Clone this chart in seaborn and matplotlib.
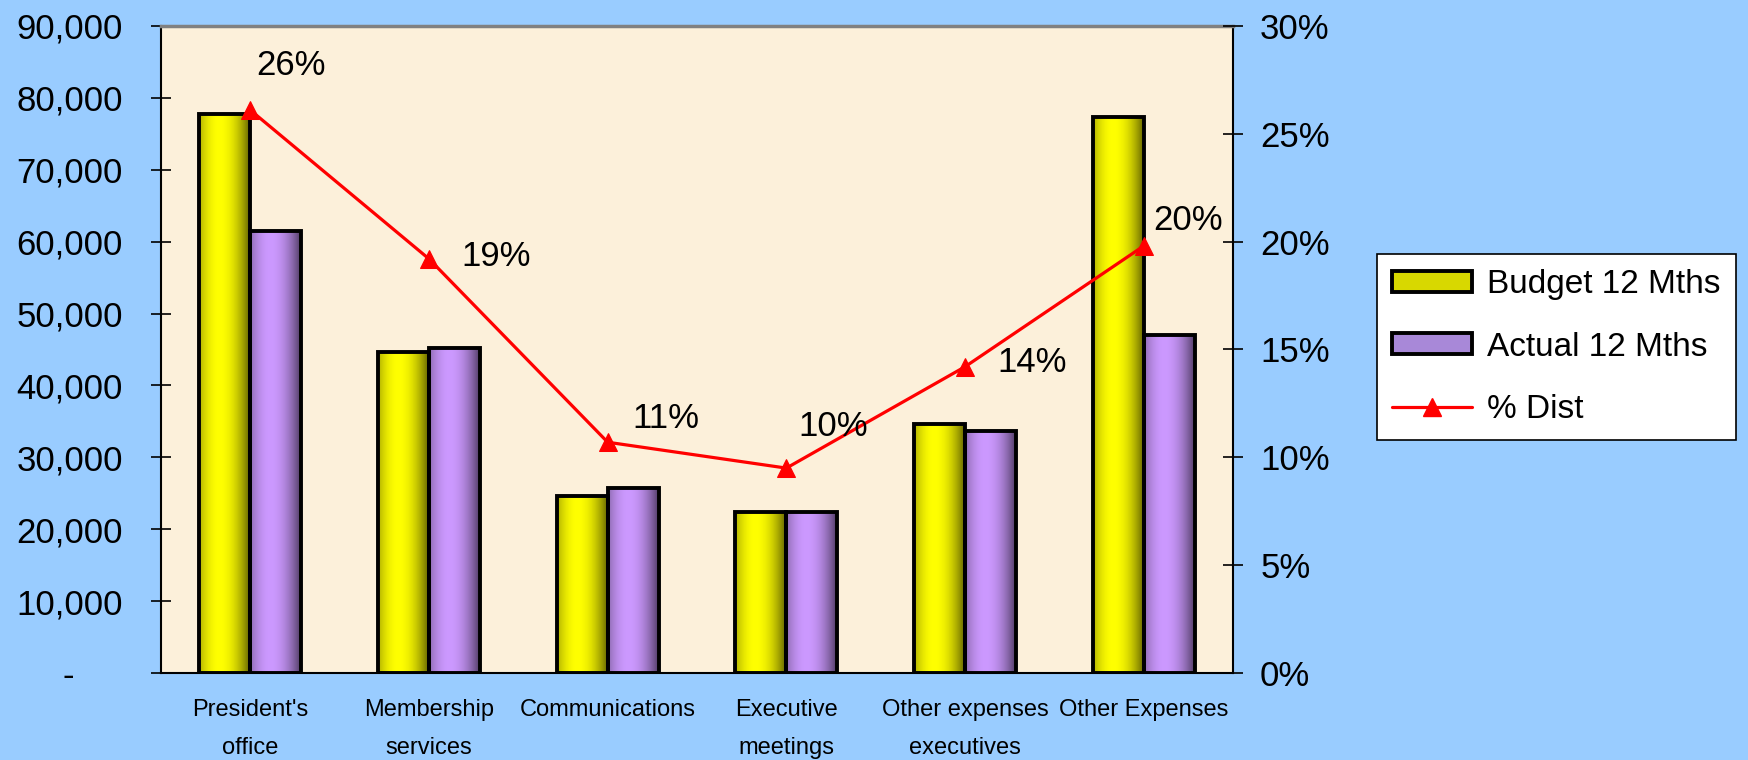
import numpy as np
import pandas as pd
import matplotlib.pyplot as plt
from matplotlib.colors import to_rgb
from matplotlib.patches import Patch
from matplotlib.lines import Line2D
from matplotlib.ticker import FuncFormatter, FixedLocator
import seaborn as sns

# data
categories = ["President's\noffice", "Membership\nservices", "Communications",
              "Executive\nmeetings", "Other expenses\nexecutives", "Other Expenses"]
series = ["Budget 12 Mths", "Actual 12 Mths"]
budget = [77800, 44700, 24600, 22400, 34600, 77400]
actual = [61500, 45200, 25700, 22400, 33600, 47000]
pct_dist = [26.1, 19.2, 10.7, 9.5, 14.2, 19.8]
pct_labels = ["26%", "19%", "11%", "10%", "14%", "20%"]

# where Excel put each data label (points, relative to the marker)
label_offsets = [(4, 32), (23, 2), (18, 17), (9, 30), (23, 3), (7, 18)]

df = pd.DataFrame({
    "category": categories * 2,
    "series": [series[0]] * len(categories) + [series[1]] * len(categories),
    "value": budget + actual,
})

sns.set_style("white")
plt.rcParams["font.family"] = ["Liberation Sans", "DejaVu Sans"]
plt.rcParams["text.color"] = "black"
plt.rcParams["xtick.color"] = "black"
plt.rcParams["ytick.color"] = "black"

colors = {series[0]: "#FFFF00", series[1]: "#CC99FF"}

fig = plt.figure(figsize=(17.48, 7.6), dpi=100, facecolor="#99CCFF")
ax = fig.add_axes([0.0921, 0.1145, 0.6133, 0.8513])
ax.set_facecolor("#FCF0DA")

sns.barplot(data=df, x="category", y="value", hue="series", palette=colors,
            width=0.57, edgecolor="black", linewidth=2.8, legend=False,
            saturation=1, ax=ax)


def shade(t):
    # cylinder look: bright a bit left of centre, dark at the edges
    return np.where(t < 0.4, 1 - 0.3 * ((0.4 - t) / 0.4) ** 2,
                    1 - 0.6 * ((t - 0.4) / 0.6) ** 2)


t = np.linspace(0, 1, 64)
for bar in list(ax.patches):
    base = np.array(to_rgb(bar.get_facecolor()))
    grad = (shade(t)[:, None] * base[None, :])[None, :, :]
    x0, w, h = bar.get_x(), bar.get_width(), bar.get_height()
    im = ax.imshow(grad, extent=[x0, x0 + w, 0, h], aspect="auto",
                   interpolation="bilinear", zorder=bar.get_zorder())
    im.set_clip_path(bar)
    bar.set_facecolor("none")
    bar.set_zorder(bar.get_zorder() + 0.5)

n = len(categories)
ax.set_xlim(-0.5, n - 0.5)
ax.set_ylim(0, 90000)
ax.set_yticks(np.arange(0, 90001, 10000))
ax.yaxis.set_major_formatter(FuncFormatter(lambda v, p: f"{v:,.0f}" if v else "-     "))
ax.set_xlabel("")
ax.set_ylabel("")
ax.set_xticks(range(n))
ax.set_xticklabels(categories, fontsize=17, linespacing=1.9)
ax.xaxis.set_minor_locator(FixedLocator(np.arange(-0.5, n, 1)))
ax.tick_params(axis="x", which="major", length=0, pad=19)
ax.tick_params(axis="x", which="minor", direction="inout", length=10, width=1.2, color="black")
ax.tick_params(axis="y", direction="inout", length=15, width=1.2, color="black",
               labelsize=25, pad=20, left=True)

for side in ["left", "bottom", "right"]:
    ax.spines[side].set_color("black")
    ax.spines[side].set_linewidth(1.5)
ax.spines["top"].set_color("#808080")
ax.spines["top"].set_linewidth(2.5)

# % distribution line on the right axis
ax2 = ax.twinx()
sns.lineplot(x=np.arange(n), y=pct_dist, ax=ax2, color="red", linewidth=2.3,
             marker="^", markersize=13, markeredgecolor="red")
ax2.set_ylim(0, 30)
ax2.set_yticks(np.arange(0, 31, 5))
ax2.yaxis.set_major_formatter(FuncFormatter(lambda v, p: f"{v:.0f}%"))
ax2.tick_params(axis="y", direction="inout", length=15, width=1.2, color="black",
                labelsize=25, pad=12, right=True)
for side in ax2.spines:
    ax2.spines[side].set_visible(False)

for i, (val, lab) in enumerate(zip(pct_dist, pct_labels)):
    ax2.annotate(lab, (i, val), xytext=label_offsets[i], textcoords="offset points",
                 ha="left", va="center", fontsize=25)

handles = [
    Patch(facecolor="#D8D800", edgecolor="black", linewidth=2.8, label=series[0]),
    Patch(facecolor="#A888D8", edgecolor="black", linewidth=2.8, label=series[1]),
    Line2D([], [], color="red", linewidth=2.3, marker="^", markersize=13, label="% Dist"),
]
leg = fig.legend(handles=handles, loc="upper left", bbox_to_anchor=(0.788, 0.666),
                 fontsize=24, frameon=True, fancybox=False, edgecolor="black",
                 framealpha=1, handlelength=2.4, handleheight=0.6, handletextpad=0.45,
                 labelspacing=0.95, borderpad=0.45, borderaxespad=0)
leg.get_frame().set_linewidth(1.2)
leg.get_frame().set_facecolor("white")

fig.savefig("out.png", dpi=100, facecolor=fig.get_facecolor())
